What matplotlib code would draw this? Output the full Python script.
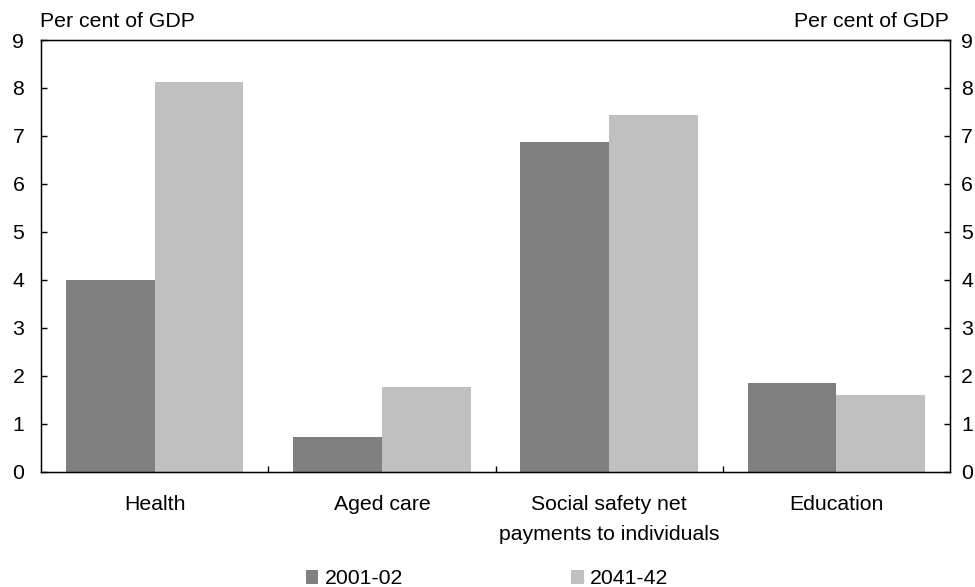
import numpy as np
import matplotlib
matplotlib.use('Agg')
import matplotlib.pyplot as plt
from matplotlib.patches import Patch

plt.rcParams['font.family'] = ['Liberation Sans', 'DejaVu Sans']

categories = ['Health', 'Aged care', 'Social safety net\npayments to individuals', 'Education']
years = ['2001-02', '2041-42']
values_2001 = [4.0, 0.72, 6.88, 1.85]
values_2041 = [8.13, 1.76, 7.44, 1.60]
colors = ['#808080', '#c0c0c0']

fs = 15.3
fig = plt.figure(figsize=(9.75, 5.87), dpi=100)
ax = fig.add_axes([41 / 975, 115.5 / 587, 909 / 975, 431.5 / 587])

x = np.arange(len(categories))
w = 0.39
ax.bar(x - w / 2, values_2001, w, color=colors[0], linewidth=0)
ax.bar(x + w / 2, values_2041, w, color=colors[1], linewidth=0)

ax.set_xlim(-0.5, len(categories) - 0.5)
ax.set_ylim(0, 9)
ax.set_yticks(range(10))
ax.tick_params(axis='y', direction='in', length=4, width=1, labelsize=fs, pad=12)
ax.set_xticks(x)
ax.set_xticklabels(categories, linespacing=1.75)
ax.tick_params(axis='x', which='major', length=0, labelsize=fs, pad=17)
ax.set_xticks(x[:-1] + 0.5, minor=True)
ax.tick_params(axis='x', which='minor', direction='in', length=4, width=1)
for s in ax.spines.values():
    s.set_linewidth(1.0)

# right-hand axis mirrors the left
ax2 = ax.twinx()
ax2.set_ylim(0, 9)
ax2.set_yticks(range(10))
ax2.tick_params(axis='y', direction='in', length=4, width=1, labelsize=fs, pad=8)

fig.text(40 / 975, 1 - 21.5 / 587, 'Per cent of GDP', fontsize=fs, ha='left', va='center')
fig.text(949 / 975, 1 - 21.5 / 587, 'Per cent of GDP', fontsize=fs, ha='right', va='center')

handles = [Patch(facecolor=c, edgecolor='none') for c in colors]
fig.legend(handles, years, loc='center', bbox_to_anchor=(487 / 975, 1 - 579 / 587),
           ncol=2, frameon=False, fontsize=fs, handlelength=0.6, handleheight=0.6,
           handletextpad=0.3, columnspacing=7.9, borderpad=0, borderaxespad=0)

fig.savefig('out.png', dpi=100)
